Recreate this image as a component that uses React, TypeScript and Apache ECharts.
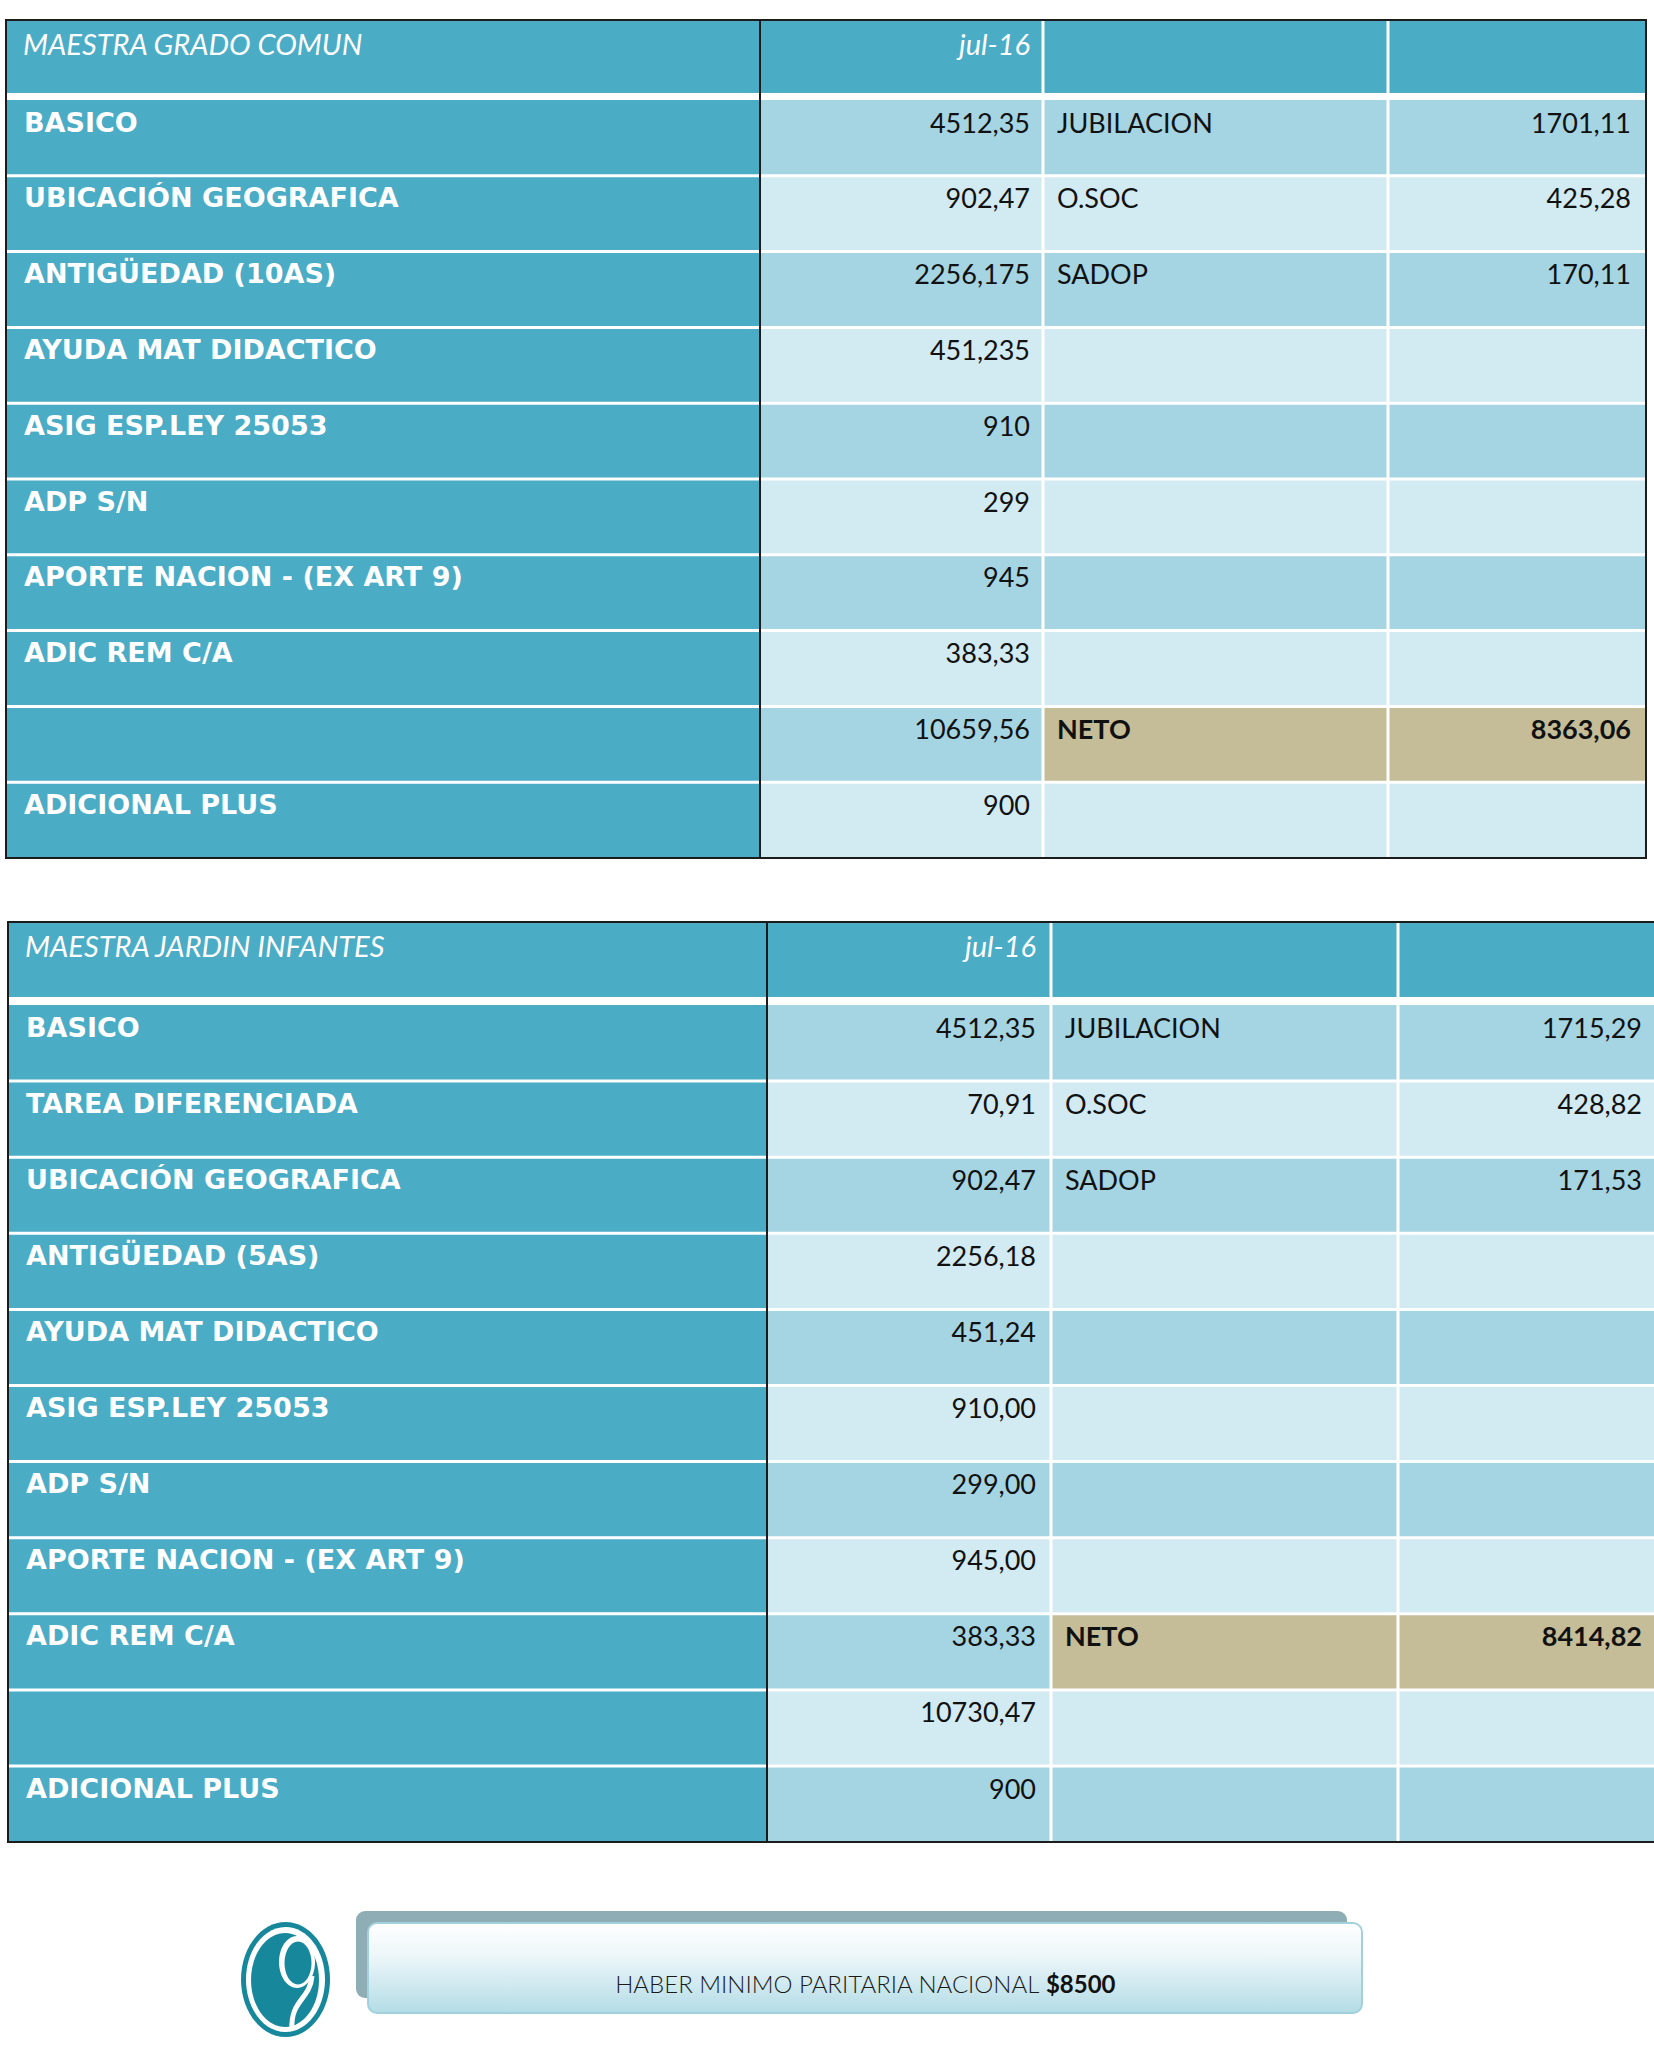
import React, { useEffect, useRef } from "react";
import * as echarts from "echarts";

// ---------- DATA ----------
const t1Title = "MAESTRA GRADO COMUN";
const t1Period = "jul-16";
const t1Concepts = [
  "BASICO",
  "UBICACIÓN GEOGRAFICA",
  "ANTIGÜEDAD (10AS)",
  "AYUDA MAT DIDACTICO",
  "ASIG ESP.LEY 25053",
  "ADP S/N",
  "APORTE NACION - (EX ART 9)",
  "ADIC REM C/A",
  "",
  "ADICIONAL PLUS",
];
const t1Amounts = ["4512,35", "902,47", "2256,175", "451,235", "910", "299", "945", "383,33", "10659,56", "900"];
const t1Deductions = ["JUBILACION", "O.SOC", "SADOP", "", "", "", "", "", "NETO", ""];
const t1DeductionAmounts = ["1701,11", "425,28", "170,11", "", "", "", "", "", "8363,06", ""];
const t1NetRow = 8;

const t2Title = "MAESTRA JARDIN INFANTES";
const t2Period = "jul-16";
const t2Concepts = [
  "BASICO",
  "TAREA DIFERENCIADA",
  "UBICACIÓN GEOGRAFICA",
  "ANTIGÜEDAD (5AS)",
  "AYUDA MAT DIDACTICO",
  "ASIG ESP.LEY 25053",
  "ADP S/N",
  "APORTE NACION - (EX ART 9)",
  "ADIC REM C/A",
  "",
  "ADICIONAL PLUS",
];
const t2Amounts = ["4512,35", "70,91", "902,47", "2256,18", "451,24", "910,00", "299,00", "945,00", "383,33", "10730,47", "900"];
const t2Deductions = ["JUBILACION", "O.SOC", "SADOP", "", "", "", "", "", "NETO", "", ""];
const t2DeductionAmounts = ["1715,29", "428,82", "171,53", "", "", "", "", "", "8414,82", "", ""];
const t2NetRow = 8;

const footerText = "HABER MINIMO PARITARIA NACIONAL ";
const footerAmount = "$8500";

// ---------- STYLE / LAYOUT ----------
const W = 1654;
const H = 2064;
const TEAL = "#4BACC6";
const DARK = "#A5D5E2";
const LIGHT = "#D2EAF1";
const TAN = "#C4BD97";
const BORDER = "#1c1c1c";
const LOGO = "#17889C";

const LABEL_FONT = "'DejaVu Sans', sans-serif";
const NUM_FONT = "Lato, 'Open Sans', sans-serif";

const layout1 = { x: [6, 760, 1043, 1388, 1646], top: 20, headBottom: 93, bodyTop: 100, rowH: 75.8, rightBorder: true, valPad: 13, dedRight: 1631 };
const layout2 = { x: [8, 767, 1051, 1398, 1672], top: 922, headBottom: 997, bodyTop: 1005, rowH: 76.1, rightBorder: false, valPad: 15, dedRight: 1642 };

function rect(x: number, y: number, w: number, h: number, fill: string) {
  return { type: "rect", silent: true, shape: { x, y, width: w, height: h }, style: { fill } };
}
function line(x1: number, y1: number, x2: number, y2: number, stroke = BORDER, lw = 2) {
  return { type: "line", silent: true, shape: { x1, y1, x2, y2 }, style: { stroke, lineWidth: lw } };
}
function txt(text: string, x: number, y: number, align: string, opts: any) {
  return {
    type: "text",
    silent: true,
    style: {
      text,
      x,
      y,
      align,
      textAlign: align,
      verticalAlign: "middle",
      textVerticalAlign: "middle",
      ...opts,
    },
  };
}

function tableElements(L: any, title: string, period: string, concepts: string[], amounts: string[], deds: string[], dedAmts: string[], netRow: number) {
  const els: any[] = [];
  const [x0, x1, x2, x3, x4] = L.x;
  const n = concepts.length;
  const bottom = L.bodyTop + n * L.rowH;
  const g = 1.5;
  els.push(rect(x0, L.top, x4 - x0, bottom - L.top, "#ffffff"));
  // header
  const hh = L.headBottom - L.top;
  els.push(rect(x0, L.top, x1 - x0, hh, TEAL));
  els.push(rect(x1, L.top, x2 - g - x1, hh, TEAL));
  els.push(rect(x2 + g, L.top, x3 - g - (x2 + g), hh, TEAL));
  els.push(rect(x3 + g, L.top, x4 - (x3 + g), hh, TEAL));
  const headStyle = { fill: "#ffffff", fontFamily: NUM_FONT, fontStyle: "italic", fontSize: 29, fontWeight: "normal" };
  els.push(txt(title, x0 + 17, L.top + 23, "left", headStyle));
  els.push(txt(period, x2 - L.valPad, L.top + 23, "right", headStyle));
  // body
  for (let i = 0; i < n; i++) {
    const y = L.bodyTop + i * L.rowH;
    const top = y + (i > 0 ? g : 0);
    const bot = y + L.rowH - (i < n - 1 ? g : 0);
    const h = bot - top;
    const band = i % 2 === 0 ? DARK : LIGHT;
    const dedFill = i === netRow ? TAN : band;
    els.push(rect(x0, top, x1 - x0, h, TEAL));
    els.push(rect(x1, top, x2 - g - x1, h, band));
    els.push(rect(x2 + g, top, x3 - g - (x2 + g), h, dedFill));
    els.push(rect(x3 + g, top, x4 - (x3 + g), h, dedFill));
    const cy = y + 22;
    const bold = i === netRow;
    if (concepts[i]) els.push(txt(concepts[i], x0 + 18, cy, "left", { fill: "#ffffff", fontFamily: LABEL_FONT, fontWeight: "bold", fontSize: 27 }));
    if (amounts[i]) els.push(txt(amounts[i], x2 - L.valPad, cy, "right", { fill: "#111111", fontFamily: NUM_FONT, fontSize: 27 }));
    if (deds[i]) els.push(txt(deds[i], x2 + 14, cy, "left", { fill: "#111111", fontFamily: NUM_FONT, fontSize: 27, fontWeight: bold ? "bold" : "normal" }));
    if (dedAmts[i]) els.push(txt(dedAmts[i], L.dedRight, cy, "right", { fill: "#111111", fontFamily: NUM_FONT, fontSize: 27, fontWeight: bold ? "bold" : "normal" }));
  }
  // borders
  const right = L.rightBorder ? x4 : W;
  els.push(line(x0 - 1, L.top, right + 1, L.top));
  els.push(line(x0 - 1, bottom, right + 1, bottom));
  els.push(line(x0, L.top, x0, bottom));
  els.push(line(x1, L.top, x1, bottom));
  if (L.rightBorder) els.push(line(x4, L.top, x4, bottom));
  return els;
}

function footerElements() {
  const els: any[] = [];
  // logo
  els.push({ type: "ellipse", silent: true, shape: { cx: 285.5, cy: 1979.5, rx: 44.5, ry: 57.5 }, style: { fill: LOGO } });
  els.push({ type: "ellipse", silent: true, shape: { cx: 285.5, cy: 1979.5, rx: 39.5, ry: 52.5 }, style: { fill: "#ffffff" } });
  els.push({ type: "ellipse", silent: true, shape: { cx: 285, cy: 1980, rx: 34, ry: 47 }, style: { fill: LOGO } });
  els.push({ type: "ellipse", silent: true, shape: { cx: 297, cy: 1962, rx: 18, ry: 26 }, style: { fill: "#ffffff" } });
  els.push({ type: "ellipse", silent: true, shape: { cx: 298, cy: 1963, rx: 13.5, ry: 21.5 }, style: { fill: LOGO } });
  els.push({
    type: "bezierCurve",
    silent: true,
    shape: { x1: 312, y1: 1976, cpx1: 310, cpy1: 2000, cpx2: 290, cpy2: 2000, x2: 292, y2: 2030 },
    style: { stroke: "#ffffff", lineWidth: 5, fill: "none" },
  });
  // banner
  els.push({ type: "rect", silent: true, shape: { x: 356, y: 1911, width: 991, height: 87, r: 9 }, style: { fill: "#8FADB5" } });
  els.push({
    type: "rect",
    silent: true,
    shape: { x: 368, y: 1923, width: 994, height: 90, r: 9 },
    style: {
      fill: new echarts.graphic.LinearGradient(0, 0, 0, 1, [
        { offset: 0, color: "#FFFFFF" },
        { offset: 0.35, color: "#EEF7FA" },
        { offset: 1, color: "#B3DCE6" },
      ]),
      stroke: "#A2D0DC",
      lineWidth: 2,
    },
  });
  els.push({
    type: "text",
    silent: true,
    style: {
      text: "{a|" + footerText + "}{b|" + footerAmount + "}",
      x: 865,
      y: 1983,
      align: "center",
      textAlign: "center",
      verticalAlign: "middle",
      textVerticalAlign: "middle",
      rich: {
        a: { fontFamily: NUM_FONT, fontSize: 24, fontWeight: 300, fill: "#1a1a1a", color: "#1a1a1a" },
        b: { fontFamily: NUM_FONT, fontSize: 24, fontWeight: "bold", fill: "#111111", color: "#111111" },
      },
    },
  });
  return els;
}

export default function App() {
  const ref = useRef<HTMLDivElement>(null);
  useEffect(() => {
    if (!ref.current) return;
    const chart = echarts.init(ref.current, null, { renderer: "svg", width: W, height: H });
    const elements = [
      ...tableElements(layout1, t1Title, t1Period, t1Concepts, t1Amounts, t1Deductions, t1DeductionAmounts, t1NetRow),
      ...tableElements(layout2, t2Title, t2Period, t2Concepts, t2Amounts, t2Deductions, t2DeductionAmounts, t2NetRow),
      ...footerElements(),
    ];
    chart.setOption({
      animation: false,
      backgroundColor: "#ffffff",
      graphic: { elements },
    });
    return () => chart.dispose();
  }, []);
  return <div ref={ref} style={{ position: "fixed", left: 0, top: 0, width: W, height: H, background: "#fff" }} />;
}
